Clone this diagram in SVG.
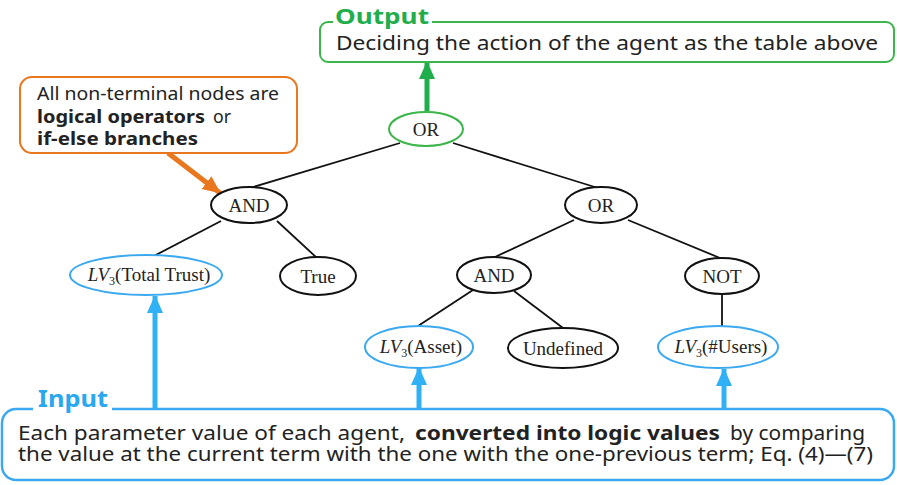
<svg xmlns="http://www.w3.org/2000/svg" width="897" height="485" viewBox="0 0 897 485">
  <style>
    .sans { font-family: "Noto Sans", "Liberation Sans", sans-serif; fill: #222; }
    .b { font-weight: bold; }
    .node { fill: #fff; stroke-width: 2; }
    .blk { stroke: #111; }
    .blu { stroke: #3aa9f0; }
    .grn { stroke: #3cb54a; }
    .lbl { font-family: "Liberation Serif", "Times New Roman", serif; font-size: 19px; fill: #222; text-anchor: middle; }
    .edge { stroke: #111; stroke-width: 1.8; fill: none; }
  </style>
  <defs>
    <marker id="headBlue" markerUnits="userSpaceOnUse" viewBox="0 0 18 18" refX="17" refY="9" markerWidth="18" markerHeight="18" orient="auto">
      <path d="M0,1 L18,9 L0,17 Z" fill="#30b0f5"/>
    </marker>
    <marker id="headGreen" markerUnits="userSpaceOnUse" viewBox="0 0 18 18" refX="17" refY="9" markerWidth="18" markerHeight="18" orient="auto">
      <path d="M0,1 L18,9 L0,17 Z" fill="#1fae4b"/>
    </marker>
    <marker id="headOrange" markerUnits="userSpaceOnUse" viewBox="0 0 18 18" refX="17" refY="9" markerWidth="18" markerHeight="18" orient="auto">
      <path d="M0,1 L18,9 L0,17 Z" fill="#e8771e"/>
    </marker>
  </defs>

  <rect width="897" height="485" fill="#fff"/>

  <!-- tree edges and callout arrows -->
  <g id="connectors">
    <line class="edge" x1="400" y1="143" x2="250" y2="188"/>
    <line class="edge" x1="453" y1="143" x2="598" y2="188"/>
    <line class="edge" x1="221" y1="221" x2="152" y2="257"/>
    <line class="edge" x1="277" y1="221" x2="317" y2="258"/>
    <line class="edge" x1="574" y1="220" x2="495" y2="257"/>
    <line class="edge" x1="628" y1="220" x2="720" y2="258"/>
    <line class="edge" x1="473" y1="290" x2="418" y2="326"/>
    <line class="edge" x1="514" y1="291" x2="563" y2="328"/>
    <line class="edge" x1="722" y1="294" x2="722" y2="326"/>
    <!-- output arrow -->
    <line x1="427" y1="111" x2="427" y2="62" stroke="#1fae4b" stroke-width="5" marker-end="url(#headGreen)"/>
    <!-- callout arrow -->
    <line x1="168" y1="153" x2="220" y2="193" stroke="#e8771e" stroke-width="5" marker-end="url(#headOrange)"/>
    <!-- input arrows -->
    <line x1="155" y1="410" x2="155" y2="296" stroke="#30b0f5" stroke-width="5" marker-end="url(#headBlue)"/>
    <line x1="419" y1="410" x2="419" y2="368" stroke="#30b0f5" stroke-width="5" marker-end="url(#headBlue)"/>
    <line x1="724" y1="410" x2="724" y2="369" stroke="#30b0f5" stroke-width="5" marker-end="url(#headBlue)"/>
  </g>

  <!-- output panel -->
  <g id="output">
    <path d="M432,22 H886 A8,8 0 0 1 894,30 V54 A8,8 0 0 1 886,62 H328 A8,8 0 0 1 320,54 V30 A8,8 0 0 1 328,22 H333" fill="none" stroke="#3cb54a" stroke-width="2"/>
    <text x="335" y="24" font-family="'Noto Sans', 'Liberation Sans', sans-serif" font-weight="bold" font-size="22" fill="#1fae4b" textLength="94" lengthAdjust="spacingAndGlyphs">Output</text>
    <text class="sans" x="336" y="50" font-size="20" textLength="542" lengthAdjust="spacingAndGlyphs">Deciding the action of the agent as the table above</text>
  </g>

  <!-- callout -->
  <g id="note">
    <rect x="20" y="77" width="277" height="76" rx="12" fill="#fff" stroke="#e8771e" stroke-width="2"/>
    <text class="sans" x="37" y="100" font-size="18" textLength="242" lengthAdjust="spacingAndGlyphs">All non-terminal nodes are</text>
    <text class="sans b" x="37" y="123" font-size="18" textLength="168" lengthAdjust="spacingAndGlyphs">logical operators</text>
    <text class="sans" x="213" y="123" font-size="18" textLength="18" lengthAdjust="spacingAndGlyphs">or</text>
    <text class="sans b" x="37" y="145" font-size="18" textLength="161" lengthAdjust="spacingAndGlyphs">if-else branches</text>
  </g>

  <!-- tree nodes -->
  <g id="n-or-root">
    <ellipse class="node grn" cx="426" cy="129" rx="37" ry="17"/>
    <text class="lbl" x="426" y="136">OR</text>
  </g>
  <g id="n-and-left">
    <ellipse class="node blk" cx="249" cy="205" rx="38" ry="18"/>
    <text class="lbl" x="249" y="212">AND</text>
  </g>
  <g id="n-or-right">
    <ellipse class="node blk" cx="601" cy="205" rx="36" ry="18"/>
    <text class="lbl" x="601" y="212">OR</text>
  </g>
  <g id="n-lv-trust">
    <ellipse class="node blu" cx="146" cy="275" rx="76" ry="20"/>
    <text class="lbl" x="149" y="281" font-size="18"><tspan font-style="italic">LV</tspan><tspan font-size="12" dy="4">3</tspan><tspan dy="-4">(Total Trust)</tspan></text>
  </g>
  <g id="n-true">
    <ellipse class="node blk" cx="318" cy="276" rx="38" ry="19"/>
    <text class="lbl" x="318" y="283">True</text>
  </g>
  <g id="n-and-mid">
    <ellipse class="node blk" cx="494" cy="275" rx="37" ry="18"/>
    <text class="lbl" x="494" y="282">AND</text>
  </g>
  <g id="n-not">
    <ellipse class="node blk" cx="722" cy="276" rx="37" ry="18"/>
    <text class="lbl" x="722" y="283">NOT</text>
  </g>
  <g id="n-lv-asset">
    <ellipse class="node blu" cx="419" cy="347" rx="54" ry="21"/>
    <text class="lbl" x="421" y="353" font-size="18"><tspan font-style="italic">LV</tspan><tspan font-size="12" dy="4">3</tspan><tspan dy="-4">(Asset)</tspan></text>
  </g>
  <g id="n-undefined">
    <ellipse class="node blk" cx="563" cy="348" rx="55" ry="20"/>
    <text class="lbl" x="563" y="355">Undefined</text>
  </g>
  <g id="n-lv-users">
    <ellipse class="node blu" cx="718" cy="347" rx="60" ry="21"/>
    <text class="lbl" x="721" y="353" font-size="18"><tspan font-style="italic">LV</tspan><tspan font-size="12" dy="4">3</tspan><tspan dy="-4">(#Users)</tspan></text>
  </g>

  <!-- input panel -->
  <g id="input">
    <path d="M112,409 H880 A14,14 0 0 1 894,423 V466 A14,14 0 0 1 880,480 H16 A14,14 0 0 1 2,466 V423 A14,14 0 0 1 16,409 H33" fill="none" stroke="#3aa9f0" stroke-width="2.5"/>
    <text x="38" y="407" font-family="'Noto Sans', 'Liberation Sans', sans-serif" font-weight="bold" font-size="24" fill="#2aa8ef" textLength="70" lengthAdjust="spacingAndGlyphs">Input</text>
    <text class="sans" x="18" y="440" font-size="20" textLength="387" lengthAdjust="spacingAndGlyphs">Each parameter value of each agent,</text>
    <text class="sans b" x="415" y="440" font-size="20" textLength="305" lengthAdjust="spacingAndGlyphs">converted into logic values</text>
    <text class="sans" x="730" y="440" font-size="20" textLength="135" lengthAdjust="spacingAndGlyphs">by comparing</text>
    <text class="sans" x="18" y="461" font-size="20" textLength="855" lengthAdjust="spacingAndGlyphs">the value at the current term with the one with the one-previous term; Eq. (4)—(7)</text>
  </g>
</svg>
